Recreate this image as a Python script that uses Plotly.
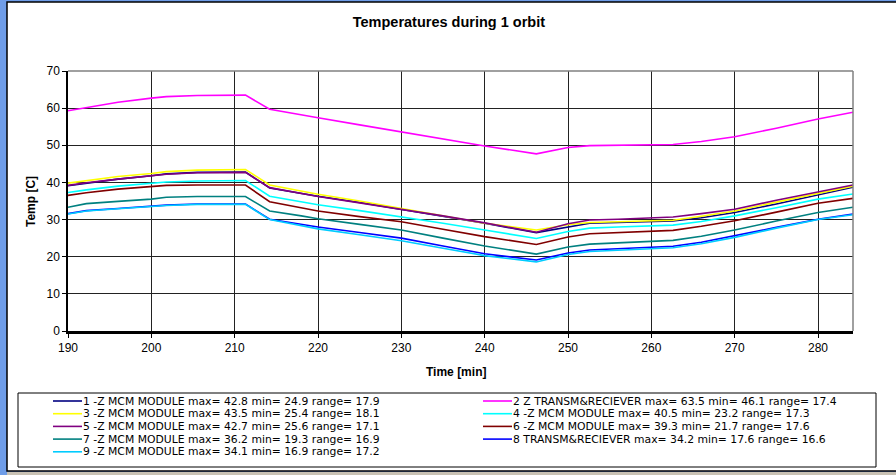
import plotly.graph_objects as go

# Time axis (minutes)
time_min = [190, 192.2, 196, 200, 201.8, 205.5, 211.3, 214.2, 218, 220, 225, 230, 235,
            240, 246.2, 250, 252.6, 256, 260, 262.6, 266, 270, 275, 280, 284.2]

# Temperatures per sensor [C]
t1 = [39.1, 39.8, 40.9, 41.8, 42.3, 42.7, 42.8, 38.5, 37.0, 36.3, 34.6, 32.8, 31.0,
      29.0, 26.5, 28.0, 29.0, 29.2, 29.4, 29.6, 30.5, 31.9, 34.2, 36.6, 38.7]
t2 = [59.3, 60.1, 61.6, 62.7, 63.1, 63.4, 63.5, 59.7, 58.1, 57.4, 55.5, 53.6, 51.7,
      49.8, 47.7, 49.4, 49.9, 50.0, 50.1, 50.2, 51.0, 52.3, 54.6, 57.1, 58.9]
t3 = [39.8, 40.5, 41.6, 42.4, 42.9, 43.3, 43.5, 39.3, 37.7, 36.8, 35.0, 33.0, 31.0,
      29.0, 27.2, 28.6, 29.2, 29.4, 29.6, 29.8, 30.9, 32.3, 34.7, 37.1, 39.0]
t4 = [37.3, 38.0, 39.0, 39.8, 40.1, 40.4, 40.5, 36.3, 34.7, 34.0, 32.4, 30.8, 29.0,
      27.2, 24.9, 26.8, 27.7, 28.0, 28.3, 28.5, 29.5, 31.0, 33.2, 35.5, 36.9]
t5 = [39.2, 39.9, 40.9, 41.7, 42.2, 42.6, 42.7, 38.6, 37.1, 36.2, 34.5, 32.8, 31.0,
      29.1, 26.6, 28.9, 29.9, 30.1, 30.4, 30.7, 31.6, 32.8, 35.2, 37.5, 39.3]
t6 = [36.5, 37.2, 38.2, 39.0, 39.2, 39.3, 39.3, 34.8, 33.1, 32.3, 30.8, 29.4, 27.4,
      25.4, 23.3, 25.3, 26.2, 26.5, 26.9, 27.1, 28.2, 29.7, 32.0, 34.4, 35.7]
t7 = [33.3, 34.3, 34.9, 35.5, 36.0, 36.2, 36.2, 32.3, 31.0, 30.2, 28.7, 27.2, 25.0,
      22.9, 20.7, 22.6, 23.4, 23.8, 24.2, 24.4, 25.5, 27.2, 29.6, 31.9, 33.3]
t8 = [31.6, 32.4, 33.0, 33.6, 33.9, 34.2, 34.2, 30.1, 28.8, 28.0, 26.5, 25.0, 22.9,
      20.8, 19.1, 21.0, 21.8, 22.1, 22.5, 22.8, 23.9, 25.6, 27.9, 30.1, 31.5]
t9 = [31.5, 32.3, 32.9, 33.5, 33.8, 34.1, 34.1, 30.0, 28.4, 27.5, 25.9, 24.3, 22.3,
      20.3, 18.6, 20.6, 21.4, 21.7, 22.1, 22.4, 23.5, 25.2, 27.7, 30.0, 31.3]

names = ["1 -Z MCM MODULE", "2 Z TRANSM&RECIEVER", "3 -Z MCM MODULE",
         "4 -Z MCM MODULE", "5 -Z MCM MODULE", "6 -Z MCM MODULE",
         "7 -Z MCM MODULE", "8 TRANSM&RECIEVER", "9 -Z MCM MODULE"]
max_vals = [42.8, 63.5, 43.5, 40.5, 42.7, 39.3, 36.2, 34.2, 34.1]
min_vals = [24.9, 46.1, 25.4, 23.2, 25.6, 21.7, 19.3, 17.6, 16.9]
range_vals = [17.9, 17.4, 18.1, 17.3, 17.1, 17.6, 16.9, 16.6, 17.2]

series = [t1, t2, t3, t4, t5, t6, t7, t8, t9]
colors = ["#000080", "#FF00FF", "#FFFF00", "#00FFFF", "#800080",
          "#800000", "#008080", "#0000FF", "#00CCFF"]

W, H = 896, 475
L, R, T, B = 68, 43, 71, 144
PW, PH = W - L - R, H - T - B


def px(x):
    return (x - L) / PW


def py(y):
    return 1 - (y - T) / PH


FONT = "Liberation Sans, Arial, sans-serif"
LEG_FONT = "DejaVu Sans, sans-serif"

fig = go.Figure()
for s, c, n in zip(series, colors, names):
    fig.add_trace(go.Scatter(x=time_min, y=s, mode="lines", name=n,
                             line=dict(color=c, width=1.6), showlegend=False))

shapes = [
    # white chart area with black frame
    dict(type="rect", xref="paper", yref="paper", x0=px(7), x1=px(899), y0=py(471), y1=py(2),
         fillcolor="white", line=dict(color="black", width=1.5), layer="below"),
    # bottom strip
    dict(type="rect", xref="paper", yref="paper", x0=px(7), x1=px(899), y0=py(480), y1=py(472),
         fillcolor="#c9c2b4", line=dict(width=0), layer="below"),
    # plot frame top/right
    dict(type="line", xref="paper", yref="paper", x0=0, x1=1, y0=1, y1=1,
         line=dict(color="#808080", width=1.5)),
    dict(type="line", xref="paper", yref="paper", x0=1, x1=1, y0=0, y1=1,
         line=dict(color="#808080", width=1.5)),
    # legend box
    dict(type="rect", xref="paper", yref="paper", x0=px(18), x1=px(876), y0=py(467), y1=py(393),
         fillcolor="white", line=dict(color="black", width=1)),
]

annotations = [
    dict(text="<b>Temp [C]</b>", textangle=-90, xref="paper", yref="paper",
         x=px(31), y=py(202), xanchor="center", yanchor="middle", showarrow=False,
         font=dict(family=FONT, size=12, color="black")),
    dict(text="<b>Time [min]</b>", xref="paper", yref="paper",
         x=px(456), y=py(372), xanchor="center", yanchor="middle", showarrow=False,
         font=dict(family=FONT, size=12, color="black")),
]

# legend built by hand (two columns)
for i, (n, mx, mn, rg, c) in enumerate(zip(names, max_vals, min_vals, range_vals, colors)):
    col, row = i % 2, i // 2
    ly = 401 + row * 12.7
    x0, x1 = (53, 82) if col == 0 else (483, 512)
    shapes.append(dict(type="line", xref="paper", yref="paper", x0=px(x0), x1=px(x1),
                       y0=py(ly), y1=py(ly), line=dict(color=c, width=1.6)))
    annotations.append(dict(text=f"{n} max= {mx} min= {mn} range= {rg}",
                            xref="paper", yref="paper", x=px(x1 - 1), y=py(ly),
                            xanchor="left", yanchor="middle", showarrow=False,
                            font=dict(family=LEG_FONT, size=10.8, color="black")))

fig.update_layout(
    width=W, height=H,
    margin=dict(l=L, r=R, t=T, b=B),
    paper_bgcolor="#6f9de8",
    plot_bgcolor="white",
    title=dict(text="<b>Temperatures during 1 orbit</b>", x=0.501, xanchor="center",
               y=1 - 22 / H, yanchor="middle", font=dict(family=FONT, size=14.5, color="black")),
    xaxis=dict(range=[190, 284.2], dtick=10, tick0=190, showgrid=True, gridcolor="#222222",
               gridwidth=1, showline=True, linecolor="black", linewidth=2.5,
               ticks="outside", ticklen=4, tickcolor="black", zeroline=False,
               tickfont=dict(family=FONT, size=12, color="black")),
    yaxis=dict(range=[0, 70], dtick=10, showgrid=True, gridcolor="#222222", gridwidth=1,
               showline=True, linecolor="black", linewidth=1.5, ticks="outside", ticklen=4,
               tickcolor="black", zeroline=False,
               tickfont=dict(family=FONT, size=12, color="black")),
    shapes=shapes,
    annotations=annotations,
    showlegend=False,
)

fig.write_html("out.html", config={"displayModeBar": False},
               post_script="document.body.style.margin='0px';")
